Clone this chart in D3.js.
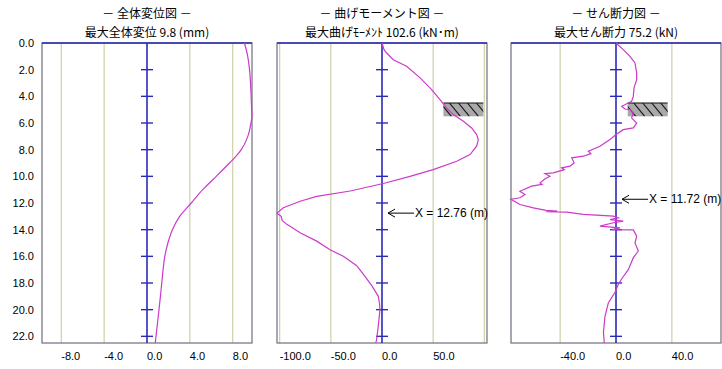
<!DOCTYPE html>
<html>
<head>
<meta charset="utf-8">
<script src="https://cdn.jsdelivr.net/npm/d3@7"></script>
<style>
  body { margin: 0; background: #fff; }
  svg text { font-family: "Liberation Sans", Arial, sans-serif; fill: #000; }
  svg text.jp { font-family: "Noto Sans CJK JP", sans-serif; }
</style>
</head>
<body>
<svg width="722" height="369"></svg>
<script>
// depth ticks (m) shared by the three diagrams
var depthTicks = [0, 2, 4, 6, 8, 10, 12, 14, 16, 18, 20, 22];
var pileLength = 22.5;

// 全体変位 (mm)
var dispDepth = [0, 1, 2, 3, 4, 5, 5.4, 6, 7, 8, 8.5, 9, 10, 11, 12, 13, 14, 15, 16, 17, 18, 19, 20, 21, 22, 22.5];
var dispValue = [9.1, 9.4, 9.57, 9.66, 9.72, 9.77, 9.8, 9.7, 9.41, 8.8, 8.3, 7.7, 6.46, 5.2, 4.13, 3.05, 2.37, 1.95, 1.66, 1.5, 1.38, 1.25, 1.12, 0.98, 0.84, 0.77];
var dispGrid = [-8, -4, 4, 8];
var dispLabels = ["-8.0", "-4.0", "0.0", "4.0", "8.0"];
var dispLabelAt = [-8, -4, 0, 4, 8];

// 曲げモーメント (kN・m)
var momDepth = [0, 0.5, 0.75, 1.25, 1.75, 2.6, 3.5, 4.25, 4.87, 5.37, 5.87, 6.37, 6.87, 7.24, 7.74, 8.37, 8.87, 9.5, 10.0, 10.54, 11.1, 11.5, 11.87, 12.36, 12.76, 13.0, 13.3, 13.6, 14.23, 14.86, 15.5, 16.0, 16.7, 17.5, 18.2, 19.0, 19.5, 20.0, 21.2, 22.2, 22.5];
var momValue = [0, 2, 4.6, 11, 24, 37, 48.5, 56.7, 63, 69.7, 79.5, 87.6, 92.5, 94.1, 92.5, 86, 73, 50, 27.4, 1.3, -31, -63.8, -80, -96.4, -102.6, -98.5, -97.5, -93, -80, -63.8, -50.8, -37.8, -24.7, -16.6, -10, -3.6, -2.5, -2, -3.6, -5.2, -6];
var momGrid = [-100, -50, 50, 100];
var momLabels = ["-100.0", "-50.0", "0.0", "50.0"];
var momLabelAt = [-100, -50, 0, 50];

// せん断力 (kN)
var shearDepth = [0, 0.5, 1.0, 1.5, 2.25, 2.75, 3.37, 4.0, 4.37, 4.75, 4.95, 5.0, 5.24, 5.62, 6.0, 6.37, 6.5, 6.87, 7.24, 7.74, 8.12, 8.3, 8.49, 8.61, 9.0, 9.24, 9.36, 9.5, 9.74, 9.8, 9.99, 10.2, 10.49, 10.6, 10.74, 11.12, 11.36, 11.61, 11.72, 12.11, 12.36, 12.55, 12.6, 12.65, 12.68, 12.86, 12.99, 13.11, 13.24, 13.36, 13.48, 13.74, 13.86, 13.99, 14.02, 14.49, 15.0, 15.6, 16.1, 17.0, 17.7, 18.1, 18.7, 19.5, 20.5, 21.7, 22.5];
var shearValue = [0, 5.2, 10, 13.6, 14.8, 14.8, 12.9, 12.4, 11.2, 4.1, 6.4, 10, 12.4, 11.2, 14.8, 12.4, 5.2, 0, -4.3, -11.5, -19.8, -18, -23.4, -31.7, -30, -32.9, -38.9, -37, -44.9, -50.8, -47.3, -51, -54.4, -53, -60.4, -68.8, -65.2, -68.8, -75.2, -68.8, -59.2, -50, -42, -50, -35.3, -23.4, -1.9, 1.6, -4.3, 5.2, -1.9, -11.5, 2.9, -3.1, 12.4, 14.8, 13.6, 16, 12.4, 8.8, 4, 1.7, -0.7, -5.5, -7.9, -9, -8.4];
var shearGrid = [-40, 40];
var shearLabels = ["-40.0", "0.0", "40.0"];
var shearLabelAt = [-40, 0, 40];

// strut level (m) and hatched reaction box
var strutDepth = [4.5, 5.5];
var momBox = [60, 99];
var shearBox = [8.4, 37];

var panels = [
  { title: "－ 全体変位図 －", sub: "最大全体変位 9.8 (mm)", max: 9.8, left: 42, smooth: true,
    depth: dispDepth, value: dispValue, grid: dispGrid, labels: dispLabels, labelAt: dispLabelAt },
  { title: "－ 曲げモーメント図 －", sub: "最大曲げﾓｰﾒﾝﾄ 102.6 (kN･m)", max: 102.6, left: 277,
    depth: momDepth, value: momValue, grid: momGrid, labels: momLabels, labelAt: momLabelAt,
    box: momBox, mark: "X = 12.76 (m)", markDepth: 12.76 },
  { title: "－ せん断力図 －", sub: "最大せん断力 75.2 (kN)", max: 75.2, left: 511,
    depth: shearDepth, value: shearValue, grid: shearGrid, labels: shearLabels, labelAt: shearLabelAt,
    box: shearBox, mark: "X = 11.72 (m)", markDepth: 11.72 }
];

var svg = d3.select("svg");
var panelWidth = 210;
var axisBlue = "#2a2ab8";

var y = d3.scaleLinear().domain([0, pileLength]).range([43, 343]);

// depth labels on the left of the first diagram
svg.selectAll(".ylab")
  .data(depthTicks)
  .enter()
  .append("text")
  .attr("x", 34)
  .attr("y", function(d) { return y(d); })
  .attr("dy", "0.35em")
  .attr("text-anchor", "end")
  .attr("font-size", "11px")
  .text(function(d) { return d.toFixed(1); });

panels.forEach(function(p) {
  var x = d3.scaleLinear().domain([-p.max, p.max]).range([p.left, p.left + panelWidth]);
  var g = svg.append("g");
  var cx = x(0);

  // titles
  g.append("text").attr("class", "jp")
    .attr("x", p.left + panelWidth / 2).attr("y", 18)
    .attr("text-anchor", "middle").attr("font-size", "12px")
    .text(p.title);
  g.append("text").attr("class", "jp")
    .attr("x", p.left + panelWidth / 2).attr("y", 36.5)
    .attr("text-anchor", "middle").attr("font-size", "12px")
    .text(p.sub);

  // grid lines
  g.selectAll(".grid")
    .data(p.grid)
    .enter()
    .append("line")
    .attr("x1", function(d) { return x(d); })
    .attr("x2", function(d) { return x(d); })
    .attr("y1", y(0)).attr("y2", y(pileLength))
    .attr("stroke", "#cfcfa8").attr("stroke-width", 1.2);

  // frame
  g.append("rect")
    .attr("x", x(-p.max)).attr("y", y(0))
    .attr("width", panelWidth).attr("height", y(pileLength) - y(0))
    .attr("fill", "none").attr("stroke", "#6e6e7e").attr("stroke-width", 1.2);
  g.append("line")
    .attr("x1", x(-p.max)).attr("x2", x(p.max))
    .attr("y1", y(0)).attr("y2", y(0))
    .attr("stroke", axisBlue).attr("stroke-width", 1.5);

  // x labels
  g.selectAll(".xlab")
    .data(p.labelAt)
    .enter()
    .append("text")
    .attr("x", function(d) { return x(d); })
    .attr("y", 360)
    .attr("font-size", "11px")
    .text(function(d, i) { return p.labels[i]; });

  // hatched box at the strut level
  if (p.box) {
    var bx0 = x(p.box[0]), bx1 = x(p.box[1]);
    var by0 = y(strutDepth[0]), by1 = y(strutDepth[1]);
    var clipId = "clip" + p.left;
    g.append("clipPath").attr("id", clipId)
      .append("rect").attr("x", bx0).attr("y", by0)
      .attr("width", bx1 - bx0).attr("height", by1 - by0);
    g.append("rect")
      .attr("x", bx0).attr("y", by0)
      .attr("width", bx1 - bx0).attr("height", by1 - by0)
      .attr("fill", "#a9a9a9");
    g.append("g").attr("clip-path", "url(#" + clipId + ")")
      .selectAll("line")
      .data(d3.range(bx0 - 12, bx1 + 2, 9))
      .enter()
      .append("line")
      .attr("x1", function(d) { return d; })
      .attr("x2", function(d) { return d + 11; })
      .attr("y1", by0).attr("y2", by1)
      .attr("stroke", "#111").attr("stroke-width", 1.1);
    g.append("line")
      .attr("x1", bx0).attr("x2", bx1)
      .attr("y1", by0).attr("y2", by0)
      .attr("stroke", "#111").attr("stroke-width", 1.2);
  }

  // zero axis with depth ticks
  g.append("line")
    .attr("x1", cx).attr("x2", cx)
    .attr("y1", y(0)).attr("y2", y(pileLength))
    .attr("stroke", axisBlue).attr("stroke-width", 1.6);
  g.selectAll(".tick")
    .data(depthTicks.slice(1))
    .enter()
    .append("line")
    .attr("x1", cx - 6).attr("x2", cx + 6)
    .attr("y1", function(d) { return y(d); })
    .attr("y2", function(d) { return y(d); })
    .attr("stroke", axisBlue).attr("stroke-width", 1.4);

  // the curve
  var line = d3.line()
    .x(function(d, i) { return x(p.value[i]); })
    .y(function(d) { return y(d); });
  if (p.smooth) line.curve(d3.curveMonotoneY);
  g.append("path")
    .attr("d", line(p.depth))
    .attr("fill", "none")
    .attr("stroke", "#cc3acc")
    .attr("stroke-width", 1.2);

  // location of the maximum
  if (p.mark) {
    var my = y(p.markDepth);
    var ax = cx + 6;
    g.append("path")
      .attr("d", "M" + (ax + 7) + "," + (my - 4) + "L" + ax + "," + my + "L" + (ax + 7) + "," + (my + 4) +
                 "M" + ax + "," + my + "L" + (ax + 26) + "," + my)
      .attr("fill", "none").attr("stroke", "#000").attr("stroke-width", 1);
    g.append("text")
      .attr("x", ax + 27).attr("y", my)
      .attr("dy", "0.35em")
      .attr("font-size", "12px")
      .text(p.mark);
  }
});
</script>
</body>
</html>
